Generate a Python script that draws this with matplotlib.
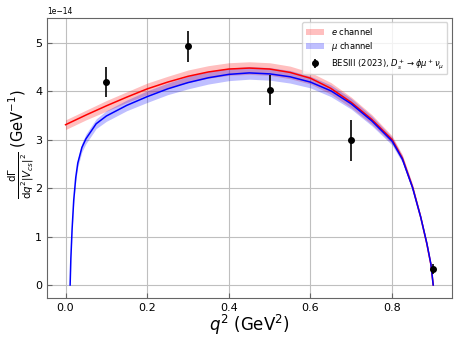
import matplotlib
matplotlib.use("Agg")
import matplotlib.pyplot as plt
import numpy as np

SCALE = 1e-14

# e channel (values in units of 1e-14 GeV^-1)
q2_e = [0.0, 0.05, 0.1, 0.15, 0.2, 0.25, 0.3, 0.35, 0.4, 0.45, 0.5, 0.55, 0.6,
        0.65, 0.7, 0.75, 0.8, 0.825, 0.85, 0.87, 0.885, 0.895, 0.9006]
dg_e = [3.31, 3.51, 3.70, 3.88, 4.05, 4.19, 4.31, 4.40, 4.46, 4.48, 4.46, 4.39, 4.27,
        4.06, 3.77, 3.42, 3.00, 2.62, 2.02, 1.40, 0.85, 0.42, 0.0]
err_e = [0.10, 0.10, 0.11, 0.11, 0.12, 0.12, 0.13, 0.13, 0.13, 0.13, 0.13, 0.13, 0.12,
         0.12, 0.11, 0.10, 0.08, 0.07, 0.06, 0.04, 0.03, 0.01, 0.0]

# mu channel
q2_mu = [0.0112, 0.013, 0.016, 0.02, 0.025, 0.03, 0.04, 0.05, 0.075, 0.1, 0.15, 0.2,
         0.25, 0.3, 0.35, 0.4, 0.45, 0.5, 0.55, 0.6, 0.65, 0.7, 0.75, 0.8, 0.825,
         0.85, 0.87, 0.885, 0.895, 0.9006]
dg_mu = [0.0, 0.55, 1.15, 1.75, 2.22, 2.52, 2.84, 3.02, 3.33, 3.49, 3.71, 3.89,
         4.05, 4.18, 4.28, 4.35, 4.38, 4.36, 4.30, 4.19, 4.01, 3.74, 3.39, 2.97, 2.60,
         2.01, 1.40, 0.86, 0.43, 0.0]
err_mu = [0.0, 0.02, 0.03, 0.05, 0.07, 0.08, 0.09, 0.10, 0.10, 0.11, 0.11, 0.12,
          0.12, 0.13, 0.13, 0.13, 0.13, 0.13, 0.13, 0.12, 0.12, 0.11, 0.10, 0.08, 0.07,
          0.06, 0.04, 0.03, 0.01, 0.0]

# BESIII (2023) data
q2_data = [0.1, 0.3, 0.5, 0.7, 0.9]
dg_data = [4.20, 4.93, 4.03, 2.99, 0.33]
dg_data_err = [0.31, 0.32, 0.31, 0.42, 0.10]


def band(ax, x, y, err, color, label):
	y = np.array(y) * SCALE
	err = np.array(err) * SCALE
	ax.fill_between(x, y - err, y + err, color=color, alpha=0.25, lw=0, label=label)
	ax.plot(x, y, color=color, lw=1.1)


fig = plt.figure(figsize=(4.58, 3.41), dpi=100)
ax = fig.add_axes([0.103, 0.127, 0.883, 0.82])

band(ax, q2_e, dg_e, err_e, "red", r"$e$ channel")
band(ax, q2_mu, dg_mu, err_mu, "blue", r"$\mu$ channel")
ax.errorbar(q2_data, np.array(dg_data) * SCALE, yerr=np.array(dg_data_err) * SCALE,
			fmt="o", color="black", ms=4, elinewidth=1.2, capsize=0,
			label=r"BESIII (2023), $D_s^+\to\phi\mu^+\nu_\mu$")

ax.grid(True, color="0.75", lw=0.8)
ax.set_axisbelow(True)
ax.tick_params(direction="in", labelsize=8, color="0.4")
for s in ax.spines.values():
	s.set_color("0.4")
ax.yaxis.get_offset_text().set_fontsize(5.5)

ax.set_xlabel(r"$q^2$ (GeV$^2$)", fontsize=12, labelpad=0)
ax.set_ylabel(r"$\frac{\mathrm{d}\Gamma}{\mathrm{d}q^2|V_{cs}|^2}$ (GeV$^{-1}$)", fontsize=10.5)
ax.yaxis.set_label_coords(-0.028, 0.55)

ax.legend(loc="upper right", fontsize=6, framealpha=0.8, labelspacing=0.45,
		  borderpad=0.4, handlelength=2.2)

fig.savefig("out.png", dpi=100)
